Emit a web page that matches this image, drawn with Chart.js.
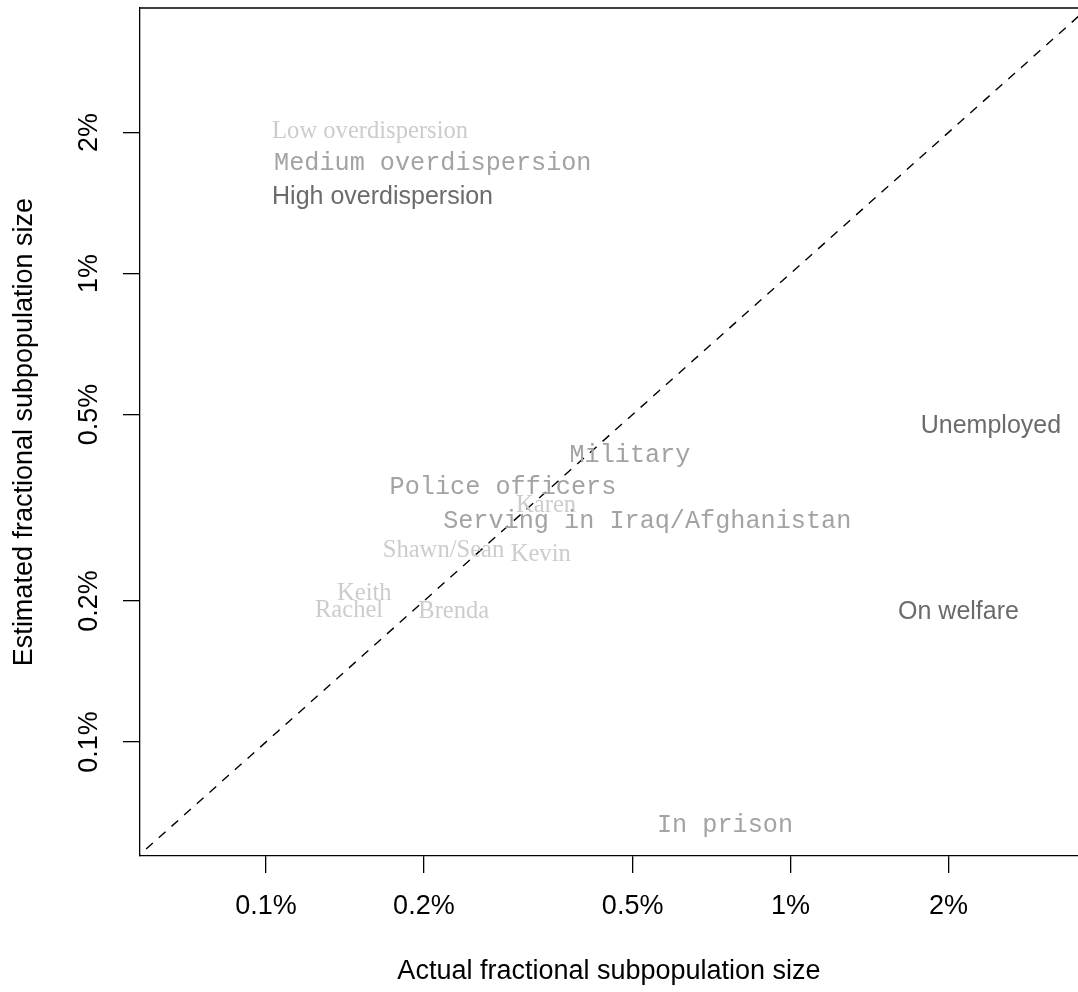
<!DOCTYPE html>
<html>
<head>
<meta charset="utf-8">
<script src="https://cdn.jsdelivr.net/npm/chart.js@4"></script>
<style>
	html, body { margin: 0; padding: 0; background: #fff; overflow: hidden; }
	#wrap { width: 1078px; height: 992px; }
</style>
</head>
<body>
<div id="wrap"><canvas id="overdispersionChart" width="1078" height="992"></canvas></div>
<script>
// values in percent
const lowNames = ['Karen', 'Shawn/Sean', 'Kevin', 'Keith', 'Rachel', 'Brenda'];
const lowActual = [0.342, 0.218, 0.334, 0.154, 0.144, 0.228];
const lowEstimated = [0.319, 0.256, 0.251, 0.207, 0.191, 0.190];

const mediumNames = ['Military', 'Police officers', 'Serving in Iraq/Afghanistan', 'In prison'];
const mediumActual = [0.494, 0.283, 0.533, 0.75];
const mediumEstimated = [0.41, 0.35, 0.296, 0.0665];

const highNames = ['Unemployed', 'On welfare'];
const highActual = [2.41, 2.09];
const highEstimated = [0.473, 0.189];

const legendNames = ['Low overdispersion', 'Medium overdispersion', 'High overdispersion'];
const legendX = 0.1027;
const legendY = [2.01, 1.72, 1.456];

const tickValues = [0.1, 0.2, 0.5, 1, 2];
const tickLabels = ['0.1%', '0.2%', '0.5%', '1%', '2%'];
const diagonal = [0.05, 4];

const groupFonts = ['24.6px "Liberation Serif", serif', '25.2px "Liberation Mono", monospace', '25px "Liberation Sans", Arial, sans-serif'];
const groupColors = ['#cccccc', '#a3a3a3', '#6b6b6b'];
const axisFont = '27px "Liberation Sans", Arial, sans-serif';

function makePoints(xs, ys) {
	return xs.map((x, i) => ({ x: x, y: ys[i] }));
}

const textLabels = {
	id: 'textLabels',
	afterDatasetsDraw(chart) {
		let ctx = chart.ctx;
		let xs = chart.scales.x;
		let ys = chart.scales.y;
		ctx.save();
		ctx.textAlign = 'center';
		ctx.textBaseline = 'middle';
		chart.data.datasets.forEach(ds => {
			if (ds.names === undefined) return;
			ctx.font = groupFonts[ds.group];
			ctx.fillStyle = groupColors[ds.group];
			ds.data.forEach((p, i) => {
				ctx.fillText(ds.names[i], xs.getPixelForValue(p.x), ys.getPixelForValue(p.y));
			});
		});
		// legend in data coordinates
		ctx.textAlign = 'left';
		legendNames.forEach((name, i) => {
			ctx.font = groupFonts[i];
			ctx.fillStyle = groupColors[i];
			ctx.fillText(name, xs.getPixelForValue(legendX) + (i == 1 ? 2 : 0), ys.getPixelForValue(legendY[i]));
		});
		ctx.restore();
	},
	afterDraw(chart) {
		let ctx = chart.ctx;
		let xs = chart.scales.x;
		let ys = chart.scales.y;
		let area = chart.chartArea;
		ctx.save();
		// top border
		ctx.strokeStyle = '#000';
		ctx.lineWidth = 1.3;
		ctx.beginPath();
		ctx.moveTo(area.left, area.top);
		ctx.lineTo(area.right, area.top);
		ctx.stroke();

		ctx.fillStyle = '#000';
		ctx.font = axisFont;
		ctx.textAlign = 'center';
		ctx.textBaseline = 'middle';
		tickValues.forEach((v, i) => {
			ctx.fillText(tickLabels[i], xs.getPixelForValue(v), 907);
		});
		tickValues.forEach((v, i) => {
			ctx.save();
			ctx.translate(90, ys.getPixelForValue(v));
			ctx.rotate(-Math.PI / 2);
			ctx.fillText(tickLabels[i], 0, 0);
			ctx.restore();
		});
		ctx.fillText('Actual fractional subpopulation size', (area.left + area.right) / 2, 972);
		ctx.save();
		ctx.translate(25, (area.top + area.bottom) / 2);
		ctx.rotate(-Math.PI / 2);
		ctx.fillText('Estimated fractional subpopulation size', 0, 0);
		ctx.restore();
		ctx.restore();
	}
};

function fixTicks(scale) {
	scale.ticks = tickValues.map(v => ({ value: v }));
}

let target = document.getElementById('overdispersionChart');
new Chart(target, {
	type: 'scatter',
	data: {
		datasets: [{
			type: 'line',
			data: makePoints(diagonal, diagonal),
			borderColor: '#000',
			borderWidth: 1.4,
			borderDash: [9, 8],
			pointRadius: 0,
			fill: false
		}, {
			group: 0,
			names: lowNames,
			data: makePoints(lowActual, lowEstimated),
			pointRadius: 0
		}, {
			group: 1,
			names: mediumNames,
			data: makePoints(mediumActual, mediumEstimated),
			pointRadius: 0
		}, {
			group: 2,
			names: highNames,
			data: makePoints(highActual, highEstimated),
			pointRadius: 0
		}]
	},
	plugins: [textLabels],
	options: {
		responsive: false,
		animation: false,
		events: [],
		layout: { padding: { top: 8, right: 0, left: 0, bottom: 0 } },
		plugins: {
			legend: { display: false },
			tooltip: { enabled: false }
		},
		scales: {
			x: {
				type: 'logarithmic',
				min: 0.05752,
				max: 3.532,
				afterBuildTicks: fixTicks,
				afterFit: scale => { scale.height = 136; },
				ticks: { display: false },
				grid: { drawOnChartArea: false, drawTicks: true, tickLength: 17, color: '#000', lineWidth: 1.3 },
				border: { display: true, color: '#000', width: 1.3 }
			},
			y: {
				type: 'logarithmic',
				min: 0.0571,
				max: 3.687,
				afterBuildTicks: fixTicks,
				afterFit: scale => { scale.width = 140; },
				ticks: { display: false },
				grid: { drawOnChartArea: false, drawTicks: true, tickLength: 17, color: '#000', lineWidth: 1.3 },
				border: { display: true, color: '#000', width: 1.3 }
			}
		}
	}
});
</script>
</body>
</html>
